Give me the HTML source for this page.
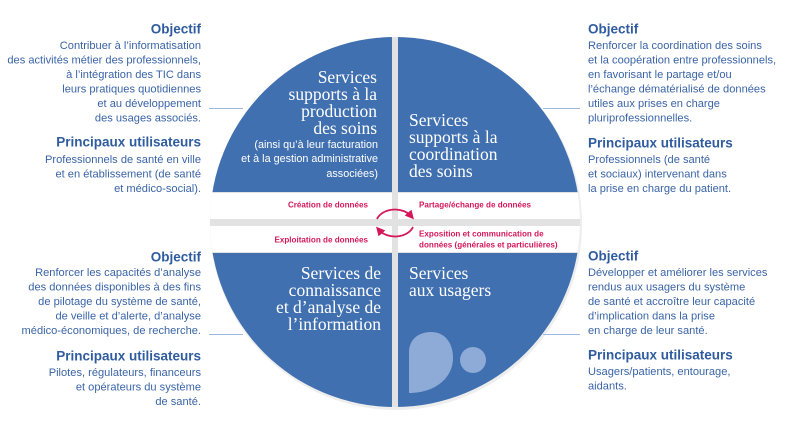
<!DOCTYPE html>
<html><head><meta charset="utf-8"><style>
html,body{margin:0;padding:0;background:#fff;}
svg{display:block;}
.b{font-family:"Liberation Sans",sans-serif;font-size:11.1px;fill:#3a64a6;}
.h{font-family:"Liberation Sans",sans-serif;font-size:13.5px;font-weight:bold;fill:#2f5c9f;}
.t{font-family:"Liberation Serif",serif;font-size:17.5px;fill:#fff;}
.s{font-family:"Liberation Sans",sans-serif;font-size:10.8px;fill:#fff;}
.p{font-family:"Liberation Sans",sans-serif;font-size:8.1px;font-weight:bold;fill:#d5175a;}
</style></head><body>
<svg width="790" height="444" viewBox="0 0 790 444" xmlns="http://www.w3.org/2000/svg">
<defs>
<clipPath id="c"><circle cx="395" cy="222" r="185"/></clipPath>
<marker id="ar" viewBox="0 0 10 10" refX="5" refY="5" markerWidth="5" markerHeight="5" orient="auto"><path d="M0,0 L10,5 L0,10 Z" fill="#d5175a"/></marker>
</defs>
<circle cx="396" cy="224" r="186" fill="#eeeeee"/>
<g clip-path="url(#c)">
<rect x="200" y="30" width="400" height="390" fill="#e2e2e2"/>
<rect x="200" y="30" width="192" height="162" fill="#4070b0"/>
<rect x="398" y="30" width="200" height="162" fill="#4070b0"/>
<rect x="200" y="193" width="192" height="26" fill="#fff"/>
<rect x="398" y="193" width="200" height="26" fill="#fff"/>
<rect x="200" y="226" width="192" height="26" fill="#fff"/>
<rect x="398" y="226" width="200" height="26" fill="#fff"/>
<rect x="200" y="253" width="192" height="170" fill="#4070b0"/>
<rect x="398" y="253" width="200" height="170" fill="#4070b0"/>
</g>
<path d="M409,393 L409,352 C409,340 418,332 431,332 C445,332 453,343 453,358 C453,378 435,393 409,393 Z" fill="#8eaad6"/>
<circle cx="473" cy="360" r="13" fill="#8eaad6"/>
<g stroke="#9fb8de" stroke-width="1">
<line x1="209" y1="108.5" x2="243" y2="108.5"/><line x1="543" y1="108.5" x2="580" y2="108.5"/>
<line x1="209" y1="334.5" x2="243" y2="334.5"/><line x1="543" y1="334.5" x2="580" y2="334.5"/>
</g>
<path d="M377,219 A19,14 0 0 1 411,216" fill="none" stroke="#d5175a" stroke-width="1.8" marker-end="url(#ar)"/>
<path d="M413,227 A19,14 0 0 1 379,230" fill="none" stroke="#d5175a" stroke-width="1.8" marker-end="url(#ar)"/>
<g class="t" text-anchor="end" dominant-baseline="central">
<text x="377" y="77">Services</text><text x="377" y="94">supports à la</text><text x="377" y="111">production</text><text x="377" y="128">des soins</text>
<text x="381" y="273">Services de</text><text x="381" y="290">connaissance</text><text x="381" y="307">et d’analyse de</text><text x="381" y="324">l’information</text>
</g>
<g class="s" text-anchor="end" dominant-baseline="central">
<text x="378" y="145">(ainsi qu’à leur facturation</text><text x="378" y="159">et à la gestion administrative</text><text x="378" y="174">associées)</text>
</g>
<g class="t" dominant-baseline="central">
<text x="409" y="120">Services</text><text x="409" y="137">supports à la</text><text x="409" y="154">coordination</text><text x="409" y="171">des soins</text>
<text x="409" y="273">Services</text><text x="409" y="290">aux usagers</text>
</g>
<g class="p" dominant-baseline="central">
<text x="368" y="205" text-anchor="end">Création de données</text>
<text x="368" y="240" text-anchor="end">Exploitation de données</text>
<text x="419" y="205">Partage/échange de données</text>
<text x="419" y="234">Exposition et communication de</text>
<text x="419" y="245">données (générales et particulières)</text>
</g>
<g text-anchor="end" dominant-baseline="central">
<text class="h" x="201" y="29">Objectif</text>
<g class="b"><text x="201" y="46">Contribuer à l’informatisation</text><text x="201" y="60.5">des activités métier des professionnels,</text><text x="201" y="75">à l’intégration des TIC dans</text><text x="201" y="89.5">leurs pratiques quotidiennes</text><text x="201" y="104">et au développement</text><text x="201" y="118.5">des usages associés.</text></g>
<text class="h" x="201" y="142">Principaux utilisateurs</text>
<g class="b"><text x="201" y="160">Professionnels de santé en ville</text><text x="201" y="174.5">et en établissement (de santé</text><text x="201" y="189">et médico-social).</text></g>
<text class="h" x="201" y="257">Objectif</text>
<g class="b"><text x="201" y="273">Renforcer les capacités d’analyse</text><text x="201" y="287.5">des données disponibles à des fins</text><text x="201" y="302">de pilotage du système de santé,</text><text x="201" y="316.5">de veille et d’alerte, d’analyse</text><text x="201" y="331">médico-économiques, de recherche.</text></g>
<text class="h" x="201" y="356">Principaux utilisateurs</text>
<g class="b"><text x="201" y="373">Pilotes, régulateurs, financeurs</text><text x="201" y="387.5">et opérateurs du système</text><text x="201" y="402">de santé.</text></g>
</g>
<g dominant-baseline="central">
<text class="h" x="588" y="29">Objectif</text>
<g class="b"><text x="588" y="46">Renforcer la coordination des soins</text><text x="588" y="60.5">et la coopération entre professionnels,</text><text x="588" y="75">en favorisant le partage et/ou</text><text x="588" y="89.5">l’échange dématérialisé de données</text><text x="588" y="104">utiles aux prises en charge</text><text x="588" y="118.5">pluriprofessionnelles.</text></g>
<text class="h" x="588" y="143">Principaux utilisateurs</text>
<g class="b"><text x="588" y="160">Professionnels (de santé</text><text x="588" y="174.5">et sociaux) intervenant dans</text><text x="588" y="189">la prise en charge du patient.</text></g>
<text class="h" x="588" y="256">Objectif</text>
<g class="b"><text x="588" y="273">Développer et améliorer les services</text><text x="588" y="287.5">rendus aux usagers du système</text><text x="588" y="302">de santé et accroître leur capacité</text><text x="588" y="316.5">d’implication dans la prise</text><text x="588" y="331">en charge de leur santé.</text></g>
<text class="h" x="588" y="355">Principaux utilisateurs</text>
<g class="b"><text x="588" y="372">Usagers/patients, entourage,</text><text x="588" y="386.5">aidants.</text></g>
</g>
</svg>
</body></html>
